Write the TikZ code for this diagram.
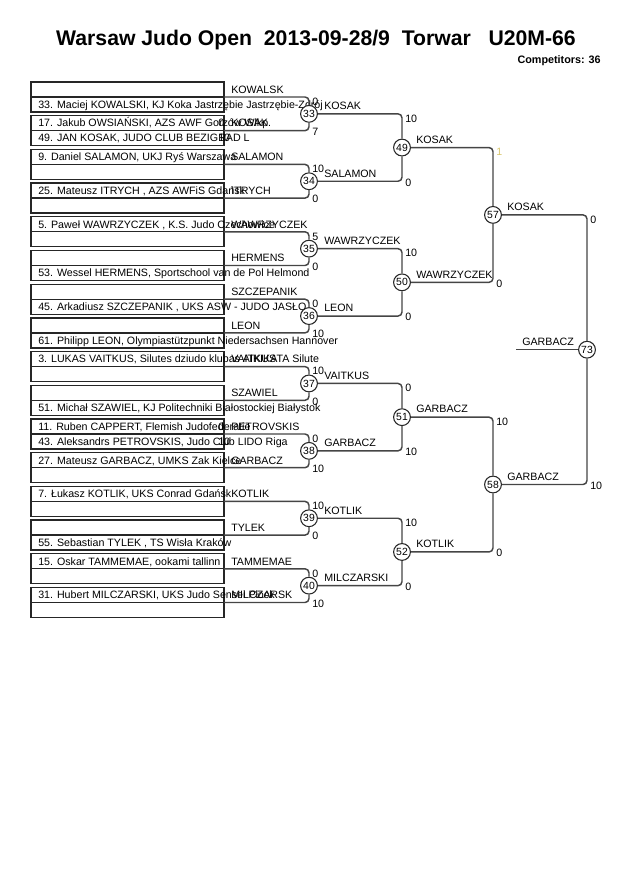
\documentclass[tikz,border=0pt]{standalone}
\usepackage{fontspec}
\setmainfont{Liberation Sans}
\usepackage{tikz}
\usetikzlibrary{positioning,calc}
\definecolor{linegray}{HTML}{454545}
\definecolor{faint}{HTML}{D8C66E}
\tikzset{
  pbox/.style={draw=black!85, line width=1pt, minimum width=144.75pt, minimum height=22.5pt, inner sep=0pt, outer sep=0pt},
  mcirc/.style={circle, draw=black!85, line width=0.8pt, fill=white, minimum size=12.6pt, inner sep=0pt, font=\fontsize{7.8}{8}\selectfont},
  conn/.style={draw=linegray, line width=1.1pt, rounded corners=3pt},
  rowtxt/.style={anchor=base west, inner sep=0pt, font=\fontsize{8}{9}\selectfont},
  mlab/.style={anchor=base west, inner sep=0pt, font=\fontsize{8}{9}\selectfont},
  score/.style={anchor=base west, inner sep=0pt, font=\fontsize{8}{9}\selectfont}
}

\begin{document}
\begin{tikzpicture}[x=0.75pt,y=-0.75pt]
  \useasboundingbox (0,0) rectangle (630,891);
  % heading
  \node[anchor=base, inner sep=0pt, font=\bfseries\fontsize{15.9}{18}\selectfont] (title) at (316,45.5)
    {Warsaw Judo Open\ \ 2013-09-28/9\ \ Torwar\ \ \ U20M-66};
  \node[anchor=base east, inner sep=0pt, font=\bfseries\fontsize{8.1}{9}\selectfont] (comp) at (601,64) {Competitors: 36};
  % pool boxes
  \foreach \k/\ra/\rb/\w in {
    0/{}/{33. Maciej KOWALSKI, KJ Koka Jastrzębie Jastrzębie-Zdrój}/KOWALSK,
    1/{17. Jakub OWSIAŃSKI, AZS AWF Gorzów Wlkp.}/{49. JAN KOSAK, JUDO CLUB BEZIGRAD L}/KOSAK,
    2/{9. Daniel SALAMON, UKJ Ryś Warszawa}/{}/SALAMON,
    3/{25. Mateusz ITRYCH , AZS AWFiS Gdańsk}/{}/ITRYCH,
    4/{5. Paweł WAWRZYCZEK , K.S. Judo Czechowice}/{}/WAWRZYCZEK,
    5/{}/{53. Wessel HERMENS, Sportschool van de Pol Helmond}/HERMENS,
    6/{}/{45. Arkadiusz SZCZEPANIK , UKS ASW - JUDO JASŁO}/SZCZEPANIK,
    7/{}/{61. Philipp LEON, Olympiastützpunkt Niedersachsen Hannover}/LEON,
    8/{3. LUKAS VAITKUS, Silutes dziudo klubas AIKIKATA Silute}/{}/VAITKUS,
    9/{}/{51. Michał SZAWIEL, KJ Politechniki Białostockiej Białystok}/SZAWIEL,
    10/{11. Ruben CAPPERT, Flemish Judofederatie}/{43. Aleksandrs PETROVSKIS, Judo Club LIDO Riga}/PETROVSKIS,
    11/{27. Mateusz GARBACZ, UMKS Zak Kielce}/{}/GARBACZ,
    12/{7. Łukasz KOTLIK, UKS Conrad Gdańsk}/{}/KOTLIK,
    13/{}/{55. Sebastian TYLEK , TS Wisła Kraków}/TYLEK,
    14/{15. Oskar TAMMEMAE, ookami tallinn}/{}/TAMMEMAE,
    15/{31. Hubert MILCZARSKI, UKS Judo Sensei Płock}/{}/MILCZARSK} {
    \pgfmathsetmacro{\yy}{82+33.7*\k}
    \node[pbox] (b\k) at (127.5,\yy+15) {};
    \draw[black!85, line width=1pt] (b\k.west) -- (b\k.east);
    \node[rowtxt] (p\k) at (38,\yy+11.3) {\ra};
    \node[rowtxt] (q\k) at (38,\yy+26.3) {\rb};
    \node[mlab] (w\k) at (231,\yy+11.3) {\w};
  }
  % pool scores
  \node[score] (sp1) at ($(b1.east)+(-6,-3.7)$) {0};
  \node[score] (sq1) at ($(b1.east)+(-6,11.3)$) {10};
  \node[score] (sp10) at ($(b10.east)+(-6,-3.7)$) {0};
  \node[score] (sq10) at ($(b10.east)+(-6,11.3)$) {10};
  % first round
  \foreach \j/\m/\sa/\sb/\w in {0/33/0/7/KOSAK, 1/34/10/0/SALAMON, 2/35/5/0/WAWRZYCZEK, 3/36/0/10/LEON,
      4/37/10/0/VAITKUS, 5/38/0/10/GARBACZ, 6/39/10/0/KOTLIK, 7/40/0/10/MILCZARSKI} {
    \pgfmathtruncatemacro{\ka}{2*\j}
    \pgfmathtruncatemacro{\kb}{2*\j+1}
    \node[mcirc] (m\m) at (309,{113.85+67.4*\j}) {\m};
    \draw[conn] (b\ka.east) -| (m\m);
    \draw[conn] (b\kb.east) -| (m\m);
    \node[score] (st\m) at ($(m\m |- b\ka.east)+(3,8.3)$) {\sa};
    \node[score] (sb\m) at ($(m\m |- b\kb.east)+(3,4.8)$) {\sb};
    \node[mlab] (l\m) at ($(m\m)+(15,-4.2)$) {\w};
  }
  % second round
  \foreach \j/\m/\ma/\mb/\sa/\sb/\w in {0/49/33/34/10/0/KOSAK, 1/50/35/36/10/0/WAWRZYCZEK,
      2/51/37/38/0/10/GARBACZ, 3/52/39/40/10/0/KOTLIK} {
    \node[mcirc] (m\m) at (402,{147.55+134.8*\j}) {\m};
    \draw[conn] (m\ma) -| (m\m);
    \draw[conn] (m\mb) -| (m\m);
    \node[score] (st\m) at ($(m\m |- m\ma)+(3,8.3)$) {\sa};
    \node[score] (sb\m) at ($(m\m |- m\mb)+(3,4.8)$) {\sb};
    \node[mlab] (l\m) at ($(m\m)+(14,-4.2)$) {\w};
  }
  % third round
  \foreach \j/\m/\ma/\mb/\sa/\sb/\w in {0/57/49/50/{\textcolor{faint}{1}}/0/KOSAK, 1/58/51/52/10/0/GARBACZ} {
    \node[mcirc] (m\m) at (493,{214.9+269.6*\j}) {\m};
    \draw[conn] (m\ma) -| (m\m);
    \draw[conn] (m\mb) -| (m\m);
    \node[score] (st\m) at ($(m\m |- m\ma)+(3,8.3)$) {\sa};
    \node[score] (sb\m) at ($(m\m |- m\mb)+(3,4.8)$) {\sb};
    \node[mlab] (l\m) at ($(m\m)+(14,-4.2)$) {\w};
  }
  % final
  \node[mcirc] (m73) at (587,349.7) {73};
  \draw[conn] (m57) -| (m73);
  \draw[conn] (m58) -| (m73);
  \node[score] (st73) at ($(m73 |- m57)+(3,8.3)$) {0};
  \node[score] (sb73) at ($(m73 |- m58)+(3,4.8)$) {10};
  \coordinate (fin) at (516,349.7);
  \draw[conn] (fin) -- (m73);
  \node[mlab] (l73) at (522,345.5) {GARBACZ};
\end{tikzpicture}
\end{document}
